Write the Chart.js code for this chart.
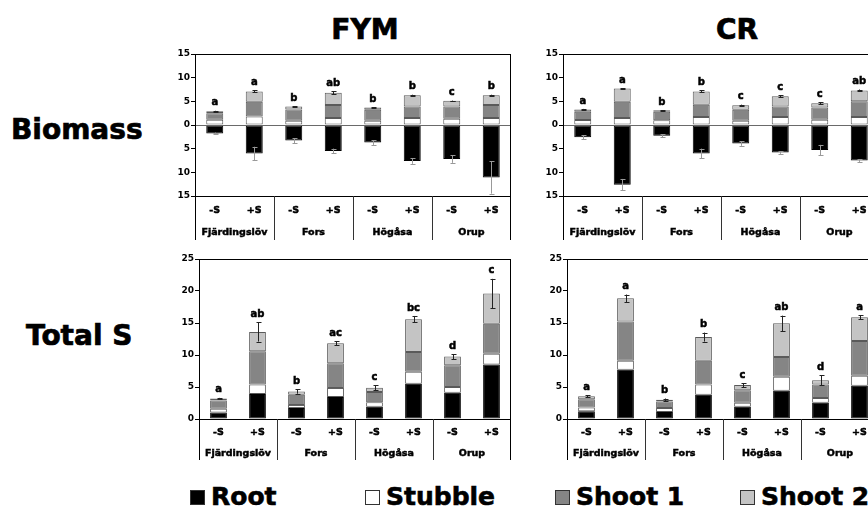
<!DOCTYPE html>
<html><head><meta charset="utf-8">
<script src="https://cdn.jsdelivr.net/npm/chart.js@4"></script>
<style>
body{margin:0;width:868px;height:517px;overflow:hidden;position:relative;background:#fff;font-family:'DejaVu Sans',sans-serif;}
.t{position:absolute;font-size:28px;font-weight:bold;white-space:nowrap;line-height:1;color:#000;-webkit-text-stroke:0.7px #000}
canvas{position:absolute;}
.lg{position:absolute;top:484px;font-size:25px;font-weight:bold;line-height:1;white-space:nowrap;color:#000;-webkit-text-stroke:0.6px #000}
.sq{display:inline-block;width:13px;height:13px;border:1px solid #333;margin-right:6px;vertical-align:0px;-webkit-text-stroke:0}
</style></head>
<body>
<div class="t" style="left:265px;top:16px;width:200px;text-align:center">FYM</div>
<div class="t" style="left:637px;top:16px;width:200px;text-align:center">CR</div>
<div class="t" style="left:11px;top:116px">Biomass</div>
<div class="t" style="left:26px;top:322px">Total S</div>
<canvas id="c1" width="370" height="205" style="left:150px;top:40px"></canvas>
<canvas id="c2" width="370" height="205" style="left:520px;top:40px"></canvas>
<canvas id="c3" width="370" height="225" style="left:150px;top:245px"></canvas>
<canvas id="c4" width="370" height="225" style="left:520px;top:245px"></canvas>
<div id="legend"></div>
<script>
const sites = ['Fjärdingslöv','Fors','Högåsa','Orup'];
const treatments = ['-S','+S'];
const seriesNames = ['Root','Stubble','Shoot 1','Shoot 2'];
const seriesColors = ['#000000','#ffffff','#858585','#c4c4c4'];

// FYM biomass (root plotted downward)
const fymBioRoot    = [-1.8,-6.0,-3.3,-5.5,-3.7,-7.6,-7.2,-11.1];
const fymBioStubble = [1.1,1.8,0.9,1.5,0.9,1.5,1.3,1.5];
const fymBioShoot1  = [1.4,3.1,2.4,2.7,2.3,2.4,2.6,2.7];
const fymBioShoot2  = [0.4,2.2,0.6,2.6,0.5,2.4,1.2,2.1];
const fymBioRootErr = [0.2,1.4,0.5,0.5,0.5,0.6,0.8,3.4];
const fymBioTopErr  = [0.1,0.2,0.1,0.3,0.1,0.1,0.05,0.1];
const fymBioLetters = ['a','a','b','ab','b','b','c','b'];

// CR biomass
const crBioRoot    = [-2.6,-12.6,-2.25,-6.0,-3.9,-5.8,-5.3,-7.5];
const crBioStubble = [1.05,1.5,1.0,1.7,0.9,1.7,1.1,1.7];
const crBioShoot1  = [1.75,3.4,1.8,2.6,2.3,2.2,2.6,3.3];
const crBioShoot2  = [0.5,2.8,0.3,2.8,0.95,2.2,0.9,2.3];
const crBioRootErr = [0.4,1.2,0.3,1.0,0.5,0.3,1.1,0.3];
const crBioTopErr  = [0.1,0.05,0.05,0.2,0.15,0.2,0.2,0.2];
const crBioLetters = ['a','a','b','b','c','c','c','ab'];

// FYM total S
const fymSRoot    = [1.0,3.9,1.7,3.45,1.9,5.5,4.1,8.5];
const fymSStubble = [0.6,1.5,0.5,1.4,0.7,1.9,0.9,1.7];
const fymSShoot1  = [1.3,5.2,1.6,3.85,1.6,3.05,3.4,4.7];
const fymSShoot2  = [0.3,3.0,0.5,3.15,0.7,5.15,1.35,4.7];
const fymSErr     = [0.1,1.5,0.35,0.3,0.4,0.5,0.4,2.3];
const fymSLetters = ['a','ab','b','ac','c','bc','d','c'];

// CR total S
const crSRoot    = [1.2,7.7,1.1,3.8,1.9,4.4,2.55,5.2];
const crSStubble = [0.6,1.4,0.6,1.6,0.65,2.2,0.75,1.55];
const crSShoot1  = [1.3,6.15,1.05,3.7,1.95,3.1,2.1,5.45];
const crSShoot2  = [0.45,3.6,0.25,3.7,0.8,5.25,0.65,3.7];
const crSErr     = [0.15,0.6,0.2,0.7,0.3,1.2,0.8,0.3];
const crSLetters = ['a','a','b','b','c','ab','d','a'];

const bioTicks = [-15,-10,-5,0,5,10,15];
const sTicks = [0,5,10,15,20,25];

const categories = [];
sites.forEach(s => treatments.forEach(t => categories.push(s + ' ' + t)));

function L(ctx,x1,y1,x2,y2){ctx.beginPath();ctx.moveTo(x1,y1);ctx.lineTo(x2,y2);ctx.stroke();}
function errBar(ctx,x,y1,y2,color){
  ctx.strokeStyle=color; ctx.lineWidth=1;
  const xx=Math.round(x)+0.5;
  L(ctx,xx,y1,xx,y2);
  L(ctx,xx-2,Math.round(y1)+0.5,xx+3,Math.round(y1)+0.5);
  L(ctx,xx-2,Math.round(y2)+0.5,xx+3,Math.round(y2)+0.5);
}
function boldText(ctx,txt,x,y){
  ctx.fillText(txt,x,y);
  ctx.lineWidth=0.5; ctx.strokeStyle='#000'; ctx.strokeText(txt,x,y);
}

const decor = {
  id:'decor',
  afterDatasetsDraw(chart, args, o){
    const ctx=chart.ctx, a=chart.chartArea, xs=chart.scales.x, ys=chart.scales.y;
    const ds=chart.data.datasets;
    ctx.save();
    ctx.lineWidth=1;
    const T=Math.round(a.top)+0.5, B=Math.round(a.bottom)+0.5, Lx=Math.round(a.left)+0.5, R=Math.round(a.right)-0.5;
    if(o.bio){
      const y0=Math.round(ys.getPixelForValue(0))+0.5;
      ctx.strokeStyle='#6a6a6a'; L(ctx,a.left,y0,a.right,y0);
    }
    ctx.font='bold 10px "DejaVu Sans"'; ctx.textAlign='center'; ctx.textBaseline='bottom';
    for(let i=0;i<categories.length;i++){
      const x=xs.getPixelForValue(i);
      let total=0;
      for(let d=(o.bio?1:0); d<ds.length; d++) total+=ds[d].data[i];
      const te=o.topErr[i];
      errBar(ctx,x,ys.getPixelForValue(total+te),ys.getPixelForValue(total-te),'#222');
      if(o.bio){
        const r=ds[0].data[i], re=o.rootErr[i];
        errBar(ctx,x,ys.getPixelForValue(r+re),ys.getPixelForValue(r-re),'#999');
      }
      ctx.fillStyle='#000';
      boldText(ctx,o.letters[i], x, ys.getPixelForValue(total+te)-3);
    }
    ctx.lineWidth=1;
    ctx.strokeStyle='#000';
    L(ctx,a.left,T,a.right,T);
    L(ctx,a.left,B,a.right,B);
    L(ctx,Lx,a.top,Lx,a.bottom+o.tableH);
    L(ctx,R,a.top,R,a.bottom+o.tableH);
    ctx.strokeStyle='#333';
    for(let g=1;g<sites.length;g++){
      const x=Math.round((xs.getPixelForValue(2*g-1)+xs.getPixelForValue(2*g))/2)+0.5;
      L(ctx,x,a.bottom,x,a.bottom+o.tableH);
    }
    ctx.fillStyle='#000'; ctx.textBaseline='middle';
    ctx.font='bold 9.5px "DejaVu Sans"';
    for(let i=0;i<categories.length;i++){
      boldText(ctx,treatments[i%2], xs.getPixelForValue(i), a.bottom+o.row1);
    }
    for(let g=0;g<sites.length;g++){
      const x=(xs.getPixelForValue(2*g)+xs.getPixelForValue(2*g+1))/2;
      boldText(ctx,sites[g], x, a.bottom+o.row2);
    }
    ctx.restore();
  }
};

function makeChart(id, data, opts){
  const datasets = data.map((d,k)=>({
    label: seriesNames[k], data: d, backgroundColor: seriesColors[k],
    borderColor: k===0 ? '#000' : '#5a5a5a', borderWidth: 1, borderSkipped: false,
    barPercentage: 0.43, categoryPercentage: 1.0, stack: 's'
  }));
  return new Chart(document.getElementById(id), {
    type:'bar',
    data:{labels:categories, datasets},
    options:{
      responsive:false, animation:false,
      layout:{padding:opts.padding},
      plugins:{legend:{display:false}, tooltip:{enabled:false}, decor:opts.decor},
      scales:{
        x:{stacked:true, grid:{display:false}, border:{display:false},
           ticks:{display:false}, afterFit:s=>{s.height=44;}},
        y:{stacked:true, min:opts.ticks[0], max:opts.ticks[opts.ticks.length-1],
           afterBuildTicks:s=>{s.ticks=opts.ticks.map(v=>({value:v}));},
           afterFit:s=>{s.width=opts.yWidth;},
           border:{display:false},
           grid:{drawOnChartArea:false, drawTicks:true, tickLength:4, color:'#000'},
           ticks:{padding:1, color:'#000', font:{family:'DejaVu Sans', size:9, weight:'bold'},
                  callback:v=>String(Math.abs(v))}}
      }
    },
    plugins:[decor]
  });
}

makeChart('c1',[fymBioRoot,fymBioStubble,fymBioShoot1,fymBioShoot2],
  {padding:{top:14,right:9,bottom:5,left:0}, yWidth:45, ticks:bioTicks,
   decor:{bio:true, topErr:fymBioTopErr, rootErr:fymBioRootErr, letters:fymBioLetters, tableH:44, row1:15, row2:37}});
makeChart('c2',[crBioRoot,crBioStubble,crBioShoot1,crBioShoot2],
  {padding:{top:14,right:11,bottom:5,left:0}, yWidth:43, ticks:bioTicks,
   decor:{bio:true, topErr:crBioTopErr, rootErr:crBioRootErr, letters:crBioLetters, tableH:44, row1:15, row2:37}});
makeChart('c3',[fymSRoot,fymSStubble,fymSShoot1,fymSShoot2],
  {padding:{top:14,right:9,bottom:7,left:0}, yWidth:49, ticks:sTicks,
   decor:{bio:false, topErr:fymSErr, letters:fymSLetters, tableH:41, row1:14, row2:35}});
makeChart('c4',[crSRoot,crSStubble,crSShoot1,crSShoot2],
  {padding:{top:14,right:11,bottom:7,left:0}, yWidth:47, ticks:sTicks,
   decor:{bio:false, topErr:crSErr, letters:crSLetters, tableH:41, row1:14, row2:35}});

// legend
const legendX = [190,365,555,740];
const lg = document.getElementById('legend');
seriesNames.forEach((n,k)=>{
  const d=document.createElement('div'); d.className='lg'; d.style.left=legendX[k]+'px';
  const s=document.createElement('span'); s.className='sq'; s.style.background=seriesColors[k];
  d.appendChild(s); d.appendChild(document.createTextNode(n)); lg.appendChild(d);
});
</script>
</body></html>
